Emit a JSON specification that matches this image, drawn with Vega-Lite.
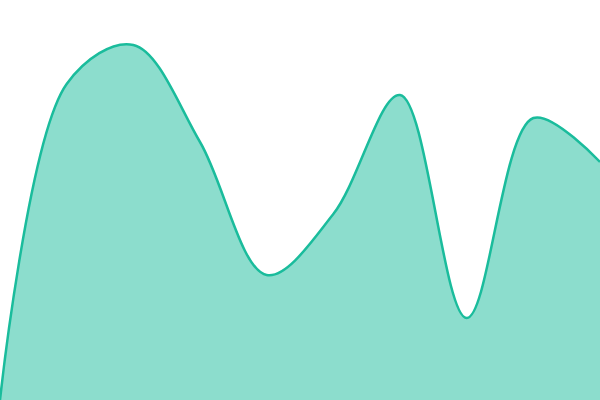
{
  "$schema": "https://vega.github.io/schema/vega-lite/v6.json",
  "width": 600,
  "height": 400,
  "padding": 0,
  "autosize": {"type": "none"},
  "config": {"view": {"stroke": null}},
  "data": {
    "values": [
      {"i": 0, "v": 0},
      {"i": 1, "v": 316},
      {"i": 2, "v": 355},
      {"i": 3, "v": 258},
      {"i": 4, "v": 125},
      {"i": 5, "v": 186},
      {"i": 6, "v": 305},
      {"i": 7, "v": 82},
      {"i": 8, "v": 282},
      {"i": 9, "v": 238}
    ]
  },
  "mark": {
    "type": "area",
    "interpolate": "catmull-rom",
    "fill": "#1abc9c",
    "fillOpacity": 0.5,
    "line": {"stroke": "#1abc9c", "strokeWidth": 2.5}
  },
  "encoding": {
    "x": {"field": "i", "type": "quantitative", "axis": null, "scale": {"domain": [0, 9], "nice": false}},
    "y": {"field": "v", "type": "quantitative", "axis": null, "scale": {"domain": [0, 400], "nice": false}}
  }
}
